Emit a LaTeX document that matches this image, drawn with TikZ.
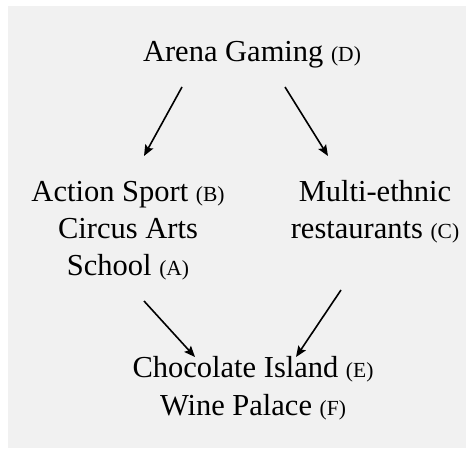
\documentclass[tikz,border=0pt]{standalone}
\usepackage{fontspec}
\setmainfont{Liberation Serif}
\usetikzlibrary{arrows.meta}
\definecolor{bggray}{HTML}{F1F1F1}
\newcommand\lettag[1]{{\fontsize{21.5}{21.5}\selectfont(#1)}}
\begin{document}
\begin{tikzpicture}[x=1pt,y=1pt,
  lbl/.style={inner sep=0pt, anchor=base, font=\fontsize{30.5}{37}\selectfont},
  arr/.style={-{Stealth[length=11pt,width=9pt,inset=2pt]}, line width=1.6pt}]
\useasboundingbox (0,0) rectangle (466,448);
\fill[white] (0,0) rectangle (466,448);
\fill[bggray] (8,0) rectangle (466,442);
% labels
\node[lbl] (D) at (252,386) {Arena Gaming \lettag{D}};
\node[lbl] (B) at (128,247) {Action Sport \lettag{B}};
\node[lbl] (A1) at (128,210) {Circus Arts};
\node[lbl] (A2) at (128,173) {School \lettag{A}};
\node[lbl] (C1) at (375,247) {Multi-ethnic};
\node[lbl] (C2) at (375,210) {restaurants \lettag{C}};
\node[lbl] (E) at (253,71) {Chocolate Island \lettag{E}};
\node[lbl] (F) at (253,33) {Wine Palace \lettag{F}};
% arrow ends
\coordinate (d1) at (182,361);
\coordinate (b1) at (144,292);
\coordinate (d2) at (285,361);
\coordinate (c1) at (328,292);
\coordinate (a1) at (144,147);
\coordinate (e1) at (195,91);
\coordinate (c2) at (341,158);
\coordinate (e2) at (296,91);
\draw[arr] (d1) -- (b1);
\draw[arr] (d2) -- (c1);
\draw[arr] (a1) -- (e1);
\draw[arr] (c2) -- (e2);
\end{tikzpicture}
\end{document}
